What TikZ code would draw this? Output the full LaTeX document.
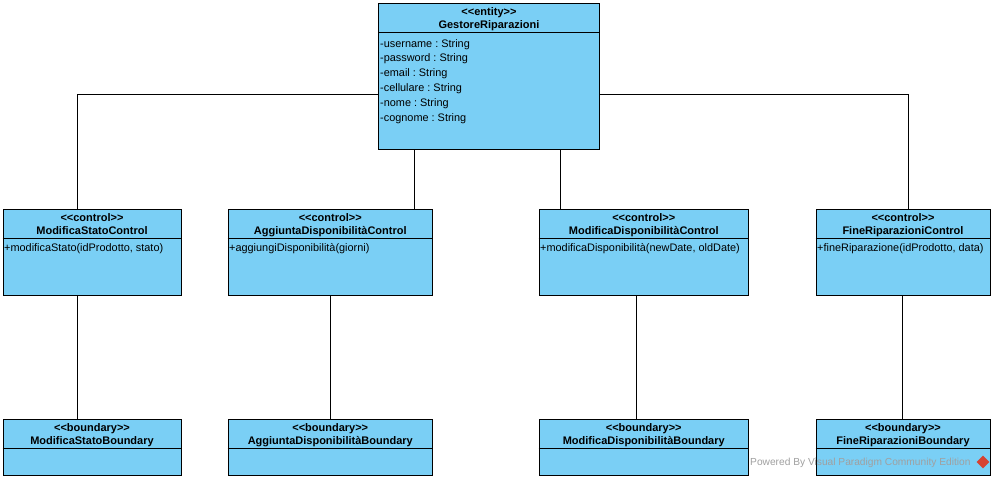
\documentclass[tikz,border=0pt]{standalone}
\usepackage{fontspec}
\setmainfont{Liberation Sans}
\usetikzlibrary{calc,shapes.geometric}
\definecolor{classfill}{RGB}{122,207,245}
\definecolor{wmgray}{RGB}{160,160,160}
\definecolor{logored}{RGB}{214,66,50}
\frenchspacing

% UML class box: name, x, y (top left), width, height, stereotype, title
\newcommand{\umlclass}[7]{%
  \node[classbox, minimum width=#4pt, minimum height=#5pt] (#1) at (#2,#3) {};
  \draw[link] ($(#1.north west)+(0,30)$) -- ($(#1.north east)+(0,30)$);
  \node[hdr] (#1-st) at ($(#1.north)+(0,13)$) {<{}<#6>{}>};
  \node[hdr] (#1-nm) at ($(#1.north)+(0,26)$) {#7};
}

\begin{document}
\begin{tikzpicture}[x=1pt,y=-1pt,
  classbox/.style={draw=black, fill=classfill, line width=1pt, inner sep=0, anchor=north west},
  hdr/.style={font=\fontsize{11}{13}\selectfont\bfseries, inner sep=0, anchor=base},
  member/.style={font=\fontsize{10.9}{13}\selectfont, inner sep=0, anchor=base west},
  link/.style={draw=black, line width=1pt}]
\useasboundingbox[fill=white] (0,0) rectangle (994,479);

% entity
\umlclass{ent}{378}{2.5}{221}{146}{entity}{GestoreRiparazioni}
\node[member] (ent-a1) at ($(ent.north west)+(2,44.5)$) {-username : String};
\node[member] (ent-a2) at ($(ent.north west)+(2,59.3)$) {-password : String};
\node[member] (ent-a3) at ($(ent.north west)+(2,74.1)$) {-email : String};
\node[member] (ent-a4) at ($(ent.north west)+(2,88.9)$) {-cellulare : String};
\node[member] (ent-a5) at ($(ent.north west)+(2,103.7)$) {-nome : String};
\node[member] (ent-a6) at ($(ent.north west)+(2,118.5)$) {-cognome : String};

% controls
\umlclass{msc}{2.5}{208.5}{178}{86.5}{control}{ModificaStatoControl}
\umlclass{adc}{227.5}{208.5}{204.5}{86.5}{control}{AggiuntaDisponibilitàControl}
\umlclass{mdc}{538.5}{208.5}{209.5}{86.5}{control}{ModificaDisponibilitàControl}
\umlclass{frc}{815.5}{208.5}{174}{86.5}{control}{FineRiparazioniControl}
\node[member] (msc-m) at ($(msc.north west)+(1.5,42.5)$) {+modificaStato(idProdotto, stato)};
\node[member] (adc-m) at ($(adc.north west)+(1.5,42.5)$) {+aggiungiDisponibilità(giorni)};
\node[member] (mdc-m) at ($(mdc.north west)+(1.5,42.5)$) {+modificaDisponibilità(newDate, oldDate)};
\node[member] (frc-m) at ($(frc.north west)+(1.5,42.5)$) {+fineRiparazione(idProdotto, data)};

% boundaries
\umlclass{msb}{2.5}{418.5}{178}{56}{boundary}{ModificaStatoBoundary}
\umlclass{adb}{227.5}{418.5}{204.5}{56}{boundary}{AggiuntaDisponibilitàBoundary}
\umlclass{mdb}{538.5}{418.5}{209.5}{56}{boundary}{ModificaDisponibilitàBoundary}
\umlclass{frb}{815.5}{418.5}{174}{56}{boundary}{FineRiparazioniBoundary}

% associations entity -> controls
\coordinate (jl) at (77,94);
\coordinate (jr) at (908,94);
\coordinate (ja) at (414,0);
\coordinate (jm) at (560,0);
\draw[link] (ent.west |- jl) -| (msc.north -| jl);
\draw[link] (ent.east |- jr) -| (frc.north -| jr);
\draw[link] (ent.south -| ja) -- (adc.north -| ja);
\draw[link] (ent.south -| jm) -- (mdc.north -| jm);

% associations controls -> boundaries
\coordinate (k1) at (77,0);
\coordinate (k2) at (330,0);
\coordinate (k3) at (636,0);
\coordinate (k4) at (902,0);
\draw[link] (msc.south -| k1) -- (msb.north -| k1);
\draw[link] (adc.south -| k2) -- (adb.north -| k2);
\draw[link] (mdc.south -| k3) -- (mdb.north -| k3);
\draw[link] (frc.south -| k4) -- (frb.north -| k4);

% tool watermark
\node[font=\fontsize{10.2}{12}\selectfont, text=wmgray, anchor=west, inner sep=0] (wm) at (750,462.5) {Powered By Visual Paradigm Community Edition};
\node[diamond, fill=logored, minimum size=13pt, inner sep=0] (logo) at (983,462) {};
\end{tikzpicture}
\end{document}
